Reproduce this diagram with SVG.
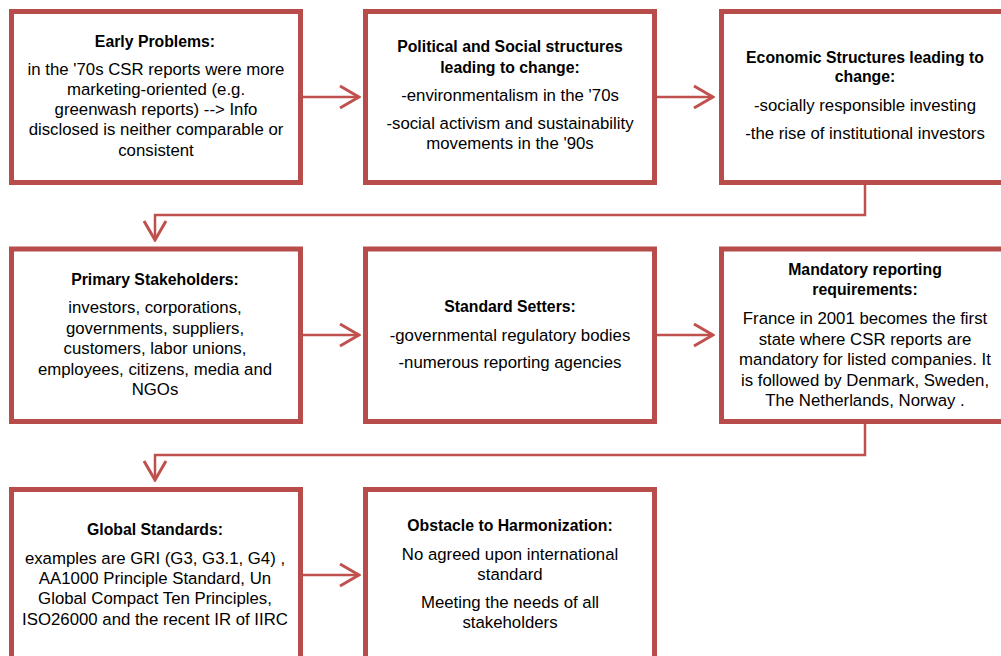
<svg xmlns="http://www.w3.org/2000/svg" width="1001" height="656" viewBox="0 0 1001 656">
<style>
.box{fill:#ffffff;stroke:#b84c4a;stroke-width:5}
.conn{fill:none;stroke:#c0504d;stroke-width:2.5}
text{font-family:"Liberation Sans",Arial,sans-serif;font-size:16.8px;fill:#000;text-anchor:middle}
.t{font-weight:bold;font-size:15.8px}
</style>
<defs>
<marker id="arr" markerUnits="userSpaceOnUse" viewBox="-22 -13 24 26" markerWidth="24" markerHeight="26" refX="0" refY="0" orient="auto">
<path d="M-19,-11 L0,0 L-19,11" fill="none" stroke="#c0504d" stroke-width="3"/>
</marker>
</defs>
<rect width="1001" height="656" fill="#ffffff"/>
<g id="connectors">
<line class="conn" x1="303" y1="97" x2="359" y2="97" marker-end="url(#arr)"/>
<line class="conn" x1="657" y1="97" x2="713" y2="97" marker-end="url(#arr)"/>
<polyline class="conn" points="865,185 865,215 155,215 155,240" marker-end="url(#arr)"/>
<line class="conn" x1="303" y1="335" x2="359" y2="335" marker-end="url(#arr)"/>
<line class="conn" x1="657" y1="335" x2="713" y2="335" marker-end="url(#arr)"/>
<polyline class="conn" points="865,424 865,455 155,455 155,480" marker-end="url(#arr)"/>
<line class="conn" x1="303" y1="575" x2="359" y2="575" marker-end="url(#arr)"/>
</g>
<g id="early-problems">
<rect class="box" x="11.5" y="11.5" width="289" height="171"/>
<text class="t" x="155" y="47">Early Problems:</text>
<text x="156" y="75">in the '70s CSR reports were more</text>
<text x="156" y="95">marketing-oriented (e.g.</text>
<text x="156" y="115">greenwash reports) --&gt; Info</text>
<text x="156" y="135">disclosed is neither comparable or</text>
<text x="156" y="156">consistent</text>
</g>
<g id="political-social">
<rect class="box" x="365.5" y="11.5" width="289" height="171"/>
<text class="t" x="510" y="52">Political and Social structures</text>
<text class="t" x="510" y="73">leading to change:</text>
<text x="510" y="101">-environmentalism in the '70s</text>
<text x="510" y="129">-social activism and sustainability</text>
<text x="510" y="149">movements in the '90s</text>
</g>
<g id="economic">
<rect class="box" x="721.5" y="11.5" width="289" height="171"/>
<text class="t" x="865" y="63">Economic Structures leading to</text>
<text class="t" x="865" y="82">change:</text>
<text x="865" y="111">-socially responsible investing</text>
<text x="865" y="139">-the rise of institutional investors</text>
</g>
<g id="primary-stakeholders">
<rect class="box" x="11.5" y="249" width="289" height="172.5"/>
<text class="t" x="155" y="285">Primary Stakeholders:</text>
<text x="155" y="313">investors, corporations,</text>
<text x="155" y="334">governments, suppliers,</text>
<text x="155" y="354">customers, labor unions,</text>
<text x="155" y="375">employees, citizens, media and</text>
<text x="155" y="395">NGOs</text>
</g>
<g id="standard-setters">
<rect class="box" x="365.5" y="249" width="289" height="172.5"/>
<text class="t" x="510" y="312">Standard Setters:</text>
<text x="510" y="341">-governmental regulatory bodies</text>
<text x="510" y="368">-numerous reporting agencies</text>
</g>
<g id="mandatory-reporting">
<rect class="box" x="721.5" y="249" width="289" height="172.5"/>
<text class="t" x="865" y="275">Mandatory reporting</text>
<text class="t" x="865" y="295">requirements:</text>
<text x="865" y="324">France in 2001 becomes the first</text>
<text x="865" y="345">state where CSR reports are</text>
<text x="865" y="365">mandatory for listed companies. It</text>
<text x="865" y="386">is followed by Denmark, Sweden,</text>
<text x="865" y="406">The Netherlands, Norway .</text>
</g>
<g id="global-standards">
<rect class="box" x="11.5" y="489.5" width="289" height="220"/>
<text class="t" x="155" y="535">Global Standards:</text>
<text x="155" y="564">examples are GRI (G3, G3.1, G4) ,</text>
<text x="155" y="584">AA1000 Principle Standard, Un</text>
<text x="155" y="604">Global Compact Ten Principles,</text>
<text x="155" y="625">ISO26000 and the recent IR of IIRC</text>
</g>
<g id="obstacle">
<rect class="box" x="365.5" y="489.5" width="289" height="220"/>
<text class="t" x="510" y="531">Obstacle to Harmonization:</text>
<text x="510" y="560">No agreed upon international</text>
<text x="510" y="580">standard</text>
<text x="510" y="608">Meeting the needs of all</text>
<text x="510" y="628">stakeholders</text>
</g>
</svg>
